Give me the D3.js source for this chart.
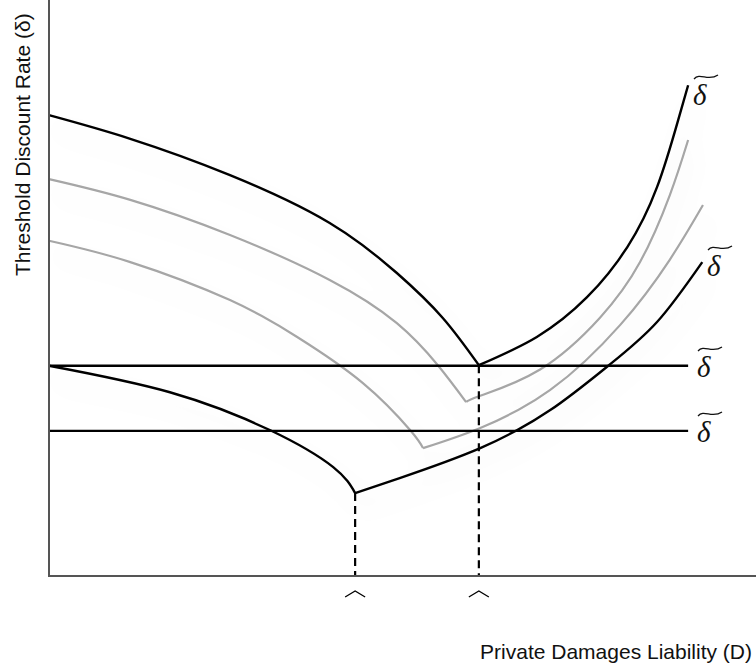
<!DOCTYPE html>
<html lang="en">
  <head>
    <meta charset="utf-8">
    <title>Threshold Discount Rate</title>
    <style>
      body { margin: 0; background: #fff; }
      .axis-title { font-family: "Liberation Sans", Arial, sans-serif; font-size: 21px; fill: #111; }
      .delta { font-family: "Liberation Serif", "Times New Roman", serif; font-style: italic; font-size: 29px; fill: #111; }
    </style>
  </head>
  <body>
    <svg id="chart" width="756" height="664"></svg>

    <script src="https://d3js.org/d3.v7.min.js"></script>
    <script>
      // curve branches, (D, delta) in chart units 0-100
      const topLeft = [[0, 80.0], [11.5, 75.9], [25.6, 69.6], [39.7, 61.3], [49.2, 52.6], [55.7, 44.8], [60.8, 36.6]];
      const topRight = [[60.8, 36.6], [69.0, 41.5], [76.1, 48.4], [81.8, 57.1], [86.0, 67.5], [89.0, 79.2], [90.4, 85.2]];
      const gray1Left = [[0, 68.9], [11.5, 65.3], [25.6, 59.2], [39.7, 51.4], [49.2, 43.9], [55.0, 36.6], [59.0, 30.2]];
      const gray1Right = [[59.0, 30.2], [61.0, 31.3], [69.4, 35.8], [77.9, 44.8], [83.6, 54.5], [87.8, 66.1], [90.4, 75.7]];
      const gray2Left = [[0, 58.2], [11.5, 54.5], [25.6, 47.9], [35.1, 41.5], [44.4, 33.5], [51.1, 25.3], [52.9, 22.2]];
      const gray2Right = [[52.9, 22.2], [61.0, 25.7], [70.9, 32.3], [80.8, 43.6], [87.8, 54.9], [92.5, 64.4]];
      const lowLeft = [[0, 36.5], [17.1, 31.9], [31.3, 25.3], [40.2, 18.9], [43.3, 14.4]];
      const lowRight = [[43.3, 14.4], [49.6, 17.0], [61.0, 22.2], [70.9, 28.8], [79.1, 36.5], [86.0, 44.1], [92.4, 54.5]];

      const thresholds = [36.5, 25.2];      // flat delta-tilde lines
      const thresholdEnd = 90.4;
      const kinks = [[43.3, 14.4], [60.8, 36.6]]; // dashed drop lines + hats

      const svg = d3.select("#chart");
      const x = d3.scaleLinear().domain([0, 100]).range([49, 756]);
      const y = d3.scaleLinear().domain([0, 100]).range([576, 0]);

      const line = d3.line().x(d => x(d[0])).y(d => y(d[1])).curve(d3.curveNatural);

      // faint shadow under the curves
      const defs = svg.append("defs");
      const f = defs.append("filter").attr("id", "shade").attr("x", "-20%").attr("y", "-20%").attr("width", "140%").attr("height", "160%");
      f.append("feDropShadow").attr("dx", 6).attr("dy", 14).attr("stdDeviation", 12)
        .attr("flood-color", "#000").attr("flood-opacity", 0.07);

      const curves = svg.append("g").attr("filter", "url(#shade)");

      [gray1Left, gray1Right, gray2Left, gray2Right].forEach(d => {
        curves.append("path").attr("d", line(d)).attr("fill", "none")
          .attr("stroke", "#a6a6a6").attr("stroke-width", 2.2);
      });
      [topLeft, topRight, lowLeft, lowRight].forEach(d => {
        curves.append("path").attr("d", line(d)).attr("fill", "none")
          .attr("stroke", "#000").attr("stroke-width", 2.4);
      });

      thresholds.forEach(t => {
        svg.append("line").attr("x1", x(0)).attr("x2", x(thresholdEnd))
          .attr("y1", y(t)).attr("y2", y(t)).attr("stroke", "#000").attr("stroke-width", 2.4);
      });

      kinks.forEach(k => {
        svg.append("line").attr("x1", x(k[0])).attr("x2", x(k[0]))
          .attr("y1", y(k[1])).attr("y2", y(0)).attr("stroke", "#000")
          .attr("stroke-width", 2.2).attr("stroke-dasharray", "8,5");
        const hx = x(k[0]), hy = 597;
        svg.append("path").attr("d", `M${hx - 10},${hy} L${hx},${hy - 6} L${hx + 10},${hy}`)
          .attr("fill", "none").attr("stroke", "#000").attr("stroke-width", 1.3);
      });

      // axes
      svg.append("line").attr("x1", x(0)).attr("x2", x(0)).attr("y1", 0).attr("y2", y(0) + 1)
        .attr("stroke", "#555").attr("stroke-width", 2);
      svg.append("line").attr("x1", x(0) - 1).attr("x2", 756).attr("y1", y(0)).attr("y2", y(0))
        .attr("stroke", "#555").attr("stroke-width", 2);

      svg.append("text").attr("class", "axis-title")
        .attr("transform", "translate(30,276) rotate(-90)")
        .text("Threshold Discount Rate (\u03b4)");
      svg.append("text").attr("class", "axis-title").attr("text-anchor", "end")
        .attr("x", 752).attr("y", 659).text("Private Damages Liability (D)");

      // delta-tilde labels
      const labels = [[693, 105], [707, 276], [697, 377], [697, 442]];
      labels.forEach(([lx, ly]) => {
        svg.append("text").attr("class", "delta").attr("x", lx).attr("y", ly).text("\u03b4");
        const ty = ly - 29, tx = lx + 1;
        svg.append("path")
          .attr("d", `M${tx},${ty + 3} C${tx + 6},${ty - 4} ${tx + 14},${ty + 6} ${tx + 24},${ty - 1}`)
          .attr("fill", "none").attr("stroke", "#111").attr("stroke-width", 1.3);
      });
    </script>
  </body>
</html>
